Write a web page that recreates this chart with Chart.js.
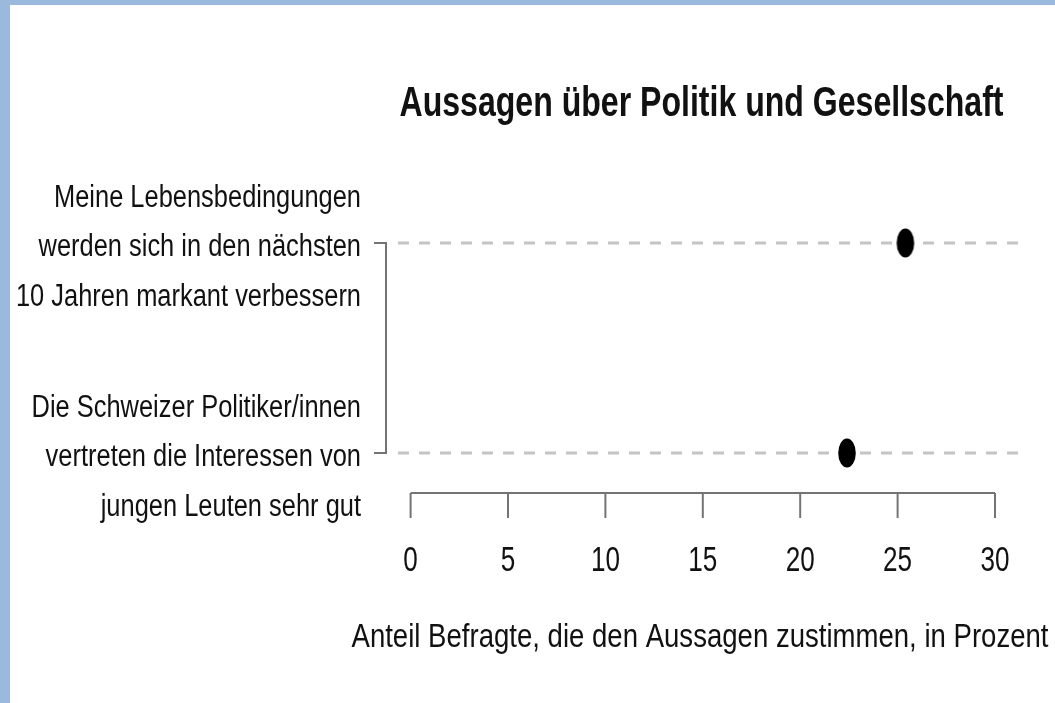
<!DOCTYPE html>
<html>
<head>
<meta charset="utf-8">
<script src="https://cdn.jsdelivr.net/npm/chart.js@4/dist/chart.umd.min.js"></script>
<style>
html,body{margin:0;padding:0;background:#fff;}
#wrap{position:absolute;left:0;top:0;width:1055px;height:703px;}
</style>
</head>
<body>
<div id="wrap"><canvas id="c" width="1055" height="703"></canvas></div>
<script>
// ---- data ----
const titleText = "Aussagen über Politik und Gesellschaft";
const xTitle = "Anteil Befragte, die den Aussagen zustimmen, in Prozent";
const categories = [
  ["Meine Lebensbedingungen", "werden sich in den nächsten", "10 Jahren markant verbessern"],
  ["Die Schweizer Politiker/innen", "vertreten die Interessen von", "jungen Leuten sehr gut"]
];
const rowPositions = [2, 1];           // top row, bottom row
const values = [25.4, 22.4];           // percent agreeing
const xTicks = [0, 5, 10, 15, 20, 25, 30];

// ellipse marker
function makeDot(){
  const c = document.createElement('canvas');
  c.width = 20; c.height = 32;
  const g = c.getContext('2d');
  g.fillStyle = '#000';
  g.beginPath();
  g.ellipse(10, 16, 8.8, 14.5, 0, 0, Math.PI*2);
  g.fill();
  return c;
}
const dot = makeDot();

function drawScaled(ctx, text, x, capCenterY, size, weight, align, sx){
  ctx.save();
  ctx.font = weight + ' ' + size + 'px "Liberation Sans", Arial, sans-serif';
  ctx.textBaseline = 'alphabetic';
  ctx.textAlign = align;
  ctx.fillStyle = '#111';
  ctx.translate(x, capCenterY + size*0.716/2);
  ctx.scale(sx, 1);
  ctx.fillText(text, 0, 0);
  ctx.restore();
}
function scaleFor(ctx, text, size, weight, target){
  ctx.save();
  ctx.font = weight + ' ' + size + 'px "Liberation Sans", Arial, sans-serif';
  const w = ctx.measureText(text).width;
  ctx.restore();
  return target / w;
}

const decor = {
  id: 'decor',
  beforeDraw(chart){
    const ctx = chart.ctx;
    ctx.save();
    ctx.fillStyle = '#fff';
    ctx.fillRect(0,0,chart.width,chart.height);
    ctx.fillStyle = '#9bb9dc';
    ctx.fillRect(0,0,10,chart.height);
    ctx.fillRect(0,0,chart.width,5);
    ctx.restore();
  },
  beforeDatasetsDraw(chart){
    const ctx = chart.ctx, xs = chart.scales.x, ys = chart.scales.y, a = chart.chartArea;
    ctx.save();
    // dashed guide lines (drawn right-to-left so a dash ends at the right edge)
    ctx.strokeStyle = '#c4c4c4';
    ctx.lineWidth = 3;
    ctx.setLineDash([11, 10]);
    rowPositions.forEach(r => {
      const y = ys.getPixelForValue(r);
      ctx.beginPath(); ctx.moveTo(a.right, y); ctx.lineTo(a.left, y); ctx.stroke();
    });
    ctx.setLineDash([]);
    // y axis
    ctx.strokeStyle = '#747474';
    ctx.lineWidth = 2;
    const yTop = ys.getPixelForValue(Math.max(...rowPositions));
    const yBot = ys.getPixelForValue(Math.min(...rowPositions));
    const axX = a.left - 2;
    ctx.beginPath(); ctx.moveTo(axX, yTop); ctx.lineTo(axX, yBot); ctx.stroke();
    rowPositions.forEach(r => {
      const y = ys.getPixelForValue(r);
      ctx.beginPath(); ctx.moveTo(axX+1, y); ctx.lineTo(axX - 12, y); ctx.stroke();
    });
    // y labels
    const fy = 31;
    const sy = scaleFor(ctx, categories[0][0], fy, 'normal', 307);
    rowPositions.forEach((r, i) => {
      const y = ys.getPixelForValue(r);
      const offs = [-47, 2, 52];
      categories[i].forEach((line, j) => {
        drawScaled(ctx, line, 361, y + offs[j], fy, 'normal', 'right', sy);
      });
    });
    // x axis
    const axY = 493;
    const x0 = xs.getPixelForValue(xTicks[0]);
    const x1 = xs.getPixelForValue(xTicks[xTicks.length-1]);
    ctx.beginPath(); ctx.moveTo(x0, axY); ctx.lineTo(x1, axY); ctx.stroke();
    const fx = 35;
    const sxT = scaleFor(ctx, '30', fx, 'normal', 29);
    xTicks.forEach(t => {
      const x = xs.getPixelForValue(t);
      ctx.beginPath(); ctx.moveTo(x, axY); ctx.lineTo(x, axY + 25); ctx.stroke();
      drawScaled(ctx, String(t), x, 558, fx, 'normal', 'center', sxT);
    });
    // x title
    const ft = 34;
    const sxx = scaleFor(ctx, xTitle, ft, 'normal', 697);
    drawScaled(ctx, xTitle, 700, 635, ft, 'normal', 'center', sxx);
    // title
    const fT = 42;
    const st = scaleFor(ctx, titleText, fT, 'bold', 604);
    drawScaled(ctx, titleText, 701.5, 101, fT, 'bold', 'center', st);
    ctx.restore();
  }
};

new Chart(document.getElementById('c'), {
  type: 'scatter',
  data: {
    datasets: [{
      data: values.map((v, i) => ({x: v, y: rowPositions[i]})),
      pointStyle: dot,
      pointRadius: 10,
      backgroundColor: '#000',
      borderColor: '#000'
    }]
  },
  options: {
    responsive: false,
    animation: false,
    devicePixelRatio: 1,
    layout: { padding: { left: 388, right: 37, top: 138, bottom: 145 } },
    plugins: { legend: { display: false }, tooltip: { enabled: false }, title: { display: false } },
    scales: {
      x: { type: 'linear', min: -1.16, max: 31.18, display: false },
      y: { type: 'linear', min: 0.5, max: 2.5, display: false }
    }
  },
  plugins: [decor]
});
</script>
</body>
</html>
